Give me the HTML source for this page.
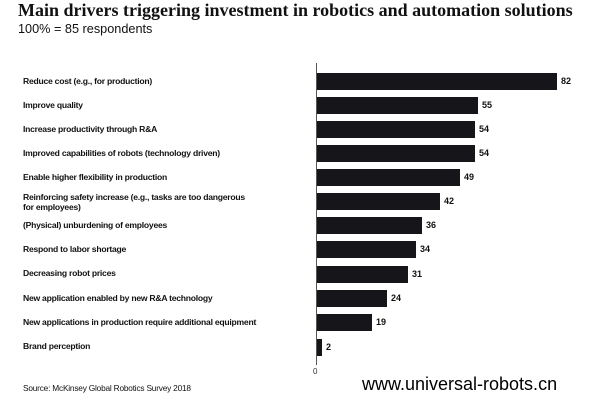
<!DOCTYPE html><html><head><style>
body{margin:0;width:600px;height:400px;background:#fff;position:relative;font-family:"Liberation Sans",sans-serif;overflow:hidden}
.t{position:absolute;white-space:nowrap}
.l{position:absolute;left:23px;font-size:8.6px;font-weight:bold;color:#111;letter-spacing:-0.25px;white-space:nowrap;line-height:10px}
.b{position:absolute;left:317px;height:17px;background:#15151a}
.v{position:absolute;font-size:9px;font-weight:bold;color:#111}
</style></head><body>
<div class="t" style="left:18px;top:0px;font-family:'Liberation Serif',serif;font-weight:bold;font-size:18px;color:#111">Main drivers triggering investment in robotics and automation solutions</div>
<div class="t" style="left:18px;top:22px;font-size:12.7px;color:#111">100% = 85 respondents</div>
<div style="position:absolute;left:316px;top:63px;width:1px;height:302px;background:#555"></div>
<div class="t" style="left:313px;top:367px;font-size:8px;color:#333">0</div>
<div class="l" style="top:76px">Reduce cost (e.g., for production)</div>
<div class="b" style="top:73px;width:240px"></div><div class="v" style="left:561px;top:76px">82</div>
<div class="l" style="top:100px">Improve quality</div>
<div class="b" style="top:97px;width:161px"></div><div class="v" style="left:482px;top:100px">55</div>
<div class="l" style="top:124px">Increase productivity through R&amp;A</div>
<div class="b" style="top:121px;width:158px"></div><div class="v" style="left:479px;top:124px">54</div>
<div class="l" style="top:148px">Improved capabilities of robots (technology driven)</div>
<div class="b" style="top:145px;width:158px"></div><div class="v" style="left:479px;top:148px">54</div>
<div class="l" style="top:172px">Enable higher flexibility in production</div>
<div class="b" style="top:169px;width:143px"></div><div class="v" style="left:464px;top:172px">49</div>
<div class="l" style="top:192px">Reinforcing safety increase (e.g., tasks are too dangerous<br>for employees)</div>
<div class="b" style="top:193px;width:123px"></div><div class="v" style="left:444px;top:196px">42</div>
<div class="l" style="top:220px">(Physical) unburdening of employees</div>
<div class="b" style="top:217px;width:105px"></div><div class="v" style="left:426px;top:220px">36</div>
<div class="l" style="top:244px">Respond to labor shortage</div>
<div class="b" style="top:241px;width:99px"></div><div class="v" style="left:420px;top:244px">34</div>
<div class="l" style="top:268px">Decreasing robot prices</div>
<div class="b" style="top:266px;width:91px"></div><div class="v" style="left:412px;top:269px">31</div>
<div class="l" style="top:293px">New application enabled by new R&amp;A technology</div>
<div class="b" style="top:290px;width:70px"></div><div class="v" style="left:391px;top:293px">24</div>
<div class="l" style="top:317px">New applications in production require additional equipment</div>
<div class="b" style="top:314px;width:55px"></div><div class="v" style="left:376px;top:317px">19</div>
<div class="l" style="top:341px">Brand perception</div>
<div class="b" style="top:339px;width:5px"></div><div class="v" style="left:326px;top:342px">2</div>
<div class="t" style="left:23px;top:383px;font-size:8.3px;color:#111;letter-spacing:-0.2px">Source: McKinsey Global Robotics Survey 2018</div>
<div class="t" style="left:362px;top:374px;font-size:18px;color:#000">www.universal-robots.cn</div>
</body></html>
